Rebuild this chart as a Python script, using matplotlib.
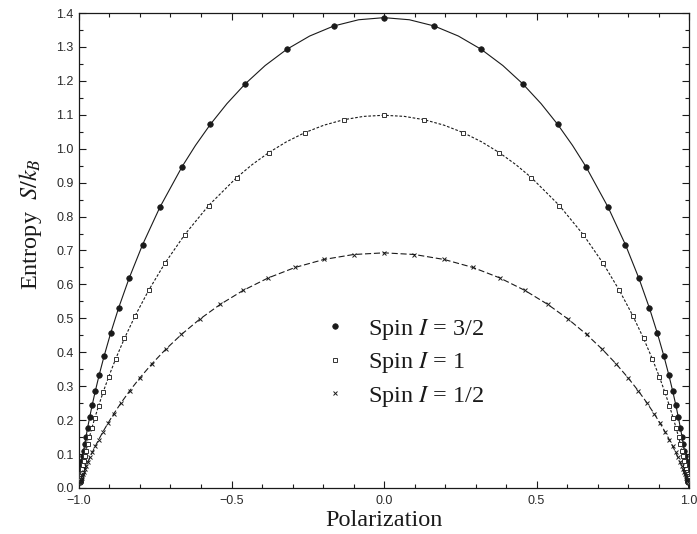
import numpy as np
import matplotlib
matplotlib.use('Agg')
import matplotlib.pyplot as plt
from matplotlib.ticker import MultipleLocator, FuncFormatter

# Polarization / entropy values (right half, P >= 0; the curves are symmetric)
p_half_32 = [0.0, 0.1648, 0.3191, 0.4551, 0.5693, 0.6618, 0.7348, 0.7917, 0.8358, 0.8700,
             0.8965, 0.9173, 0.9337, 0.9466, 0.9569, 0.9651, 0.9717, 0.9770, 0.9813, 0.9847,
             0.9876, 0.9899, 0.9917, 0.9932, 0.9945, 0.9955, 0.9963, 0.9970, 0.9975, 0.9980, 0.9983]
s_half_32 = [1.3863, 1.3617, 1.2927, 1.1911, 1.0718, 0.9475, 0.8275, 0.7169, 0.6180, 0.5310,
             0.4554, 0.3901, 0.3338, 0.2854, 0.2439, 0.2082, 0.1776, 0.1513, 0.1288, 0.1096,
             0.0931, 0.0791, 0.0670, 0.0568, 0.0481, 0.0407, 0.0344, 0.0290, 0.0245, 0.0206, 0.0174]

p_half_1 = [0.0, 0.1325, 0.2598, 0.3777, 0.4833, 0.5752, 0.6533, 0.7184, 0.7719, 0.8156,
            0.8509, 0.8795, 0.9025, 0.9210, 0.9359, 0.9480, 0.9577, 0.9656, 0.9720, 0.9772,
            0.9814, 0.9848, 0.9876, 0.9898, 0.9917, 0.9932, 0.9945, 0.9955, 0.9963, 0.9970, 0.9975]
s_half_1 = [1.0986, 1.0854, 1.0473, 0.9886, 0.9148, 0.8324, 0.7468, 0.6623, 0.5822, 0.5081,
            0.4411, 0.3812, 0.3284, 0.2822, 0.2419, 0.2070, 0.1769, 0.1509, 0.1286, 0.1094,
            0.0930, 0.0790, 0.0670, 0.0568, 0.0481, 0.0407, 0.0344, 0.0290, 0.0245, 0.0206, 0.0174]

p_half_12 = [0.0, 0.0997, 0.1974, 0.2913, 0.3799, 0.4621, 0.5370, 0.6044, 0.6640, 0.7163,
             0.7616, 0.8005, 0.8337, 0.8617, 0.8854, 0.9051, 0.9217, 0.9354, 0.9468, 0.9562,
             0.9640, 0.9705, 0.9757, 0.9801, 0.9837, 0.9866, 0.9890, 0.9910, 0.9926, 0.9940, 0.9951]
s_half_12 = [0.6931, 0.6882, 0.6735, 0.6501, 0.6191, 0.5822, 0.5411, 0.4974, 0.4527, 0.4083,
             0.3653, 0.3245, 0.2865, 0.2514, 0.2195, 0.1909, 0.1653, 0.1426, 0.1227, 0.1053,
             0.0901, 0.0769, 0.0656, 0.0558, 0.0474, 0.0402, 0.0340, 0.0288, 0.0243, 0.0205, 0.0173]

# extra points read along the drawn curves between the widely spaced markers near the top
p_line_32 = [0.0831, 0.2438, 0.3897, 0.5150, 0.6182]
s_line_32 = [1.3801, 1.3321, 1.2451, 1.1328, 1.0096]
p_line_1 = [0.0666, 0.1971, 0.3202, 0.4322]
s_line_1 = [1.0953, 1.0693, 1.0202, 0.9532]
p_line_12 = []
s_line_12 = []

# curve end point (full polarization, zero entropy)
p_end = 1.0
s_end = 0.0

labels = [r'Spin $I$ = 3/2', r'Spin $I$ = 1', r'Spin $I$ = 1/2']
x_ticks = [-1.0, -0.5, 0.0, 0.5, 1.0]


def mirror(p, s):
    p = np.asarray(p, dtype=float)
    s = np.asarray(s, dtype=float)
    return np.concatenate([-p[::-1], p[1:]]), np.concatenate([s[::-1], s[1:]])


def line_data(ph, sh, pe, se):
    p = np.concatenate([ph, pe]).astype(float)
    s = np.concatenate([sh, se]).astype(float)
    o = np.argsort(p)
    p, s = mirror(p[o], s[o])
    return np.concatenate([[-p_end], p, [p_end]]), np.concatenate([[s_end], s, [s_end]])


plt.rcParams['mathtext.fontset'] = 'stix'
plt.rcParams['font.family'] = ['Liberation Sans', 'DejaVu Sans']

fig = plt.figure(figsize=(6.97, 5.34), dpi=100)
ax = fig.add_axes([79 / 697, 1 - 488 / 534, 610 / 697, 475 / 534])

ink = '#1a1a1a'
series = [
    (p_half_32, s_half_32, p_line_32, s_line_32, '-',
     dict(marker='o', markersize=4.0, markerfacecolor=ink, markeredgecolor=ink, markeredgewidth=0.5)),
    (p_half_1, s_half_1, p_line_1, s_line_1, (0, (2.4, 1.6)),
     dict(marker='s', markersize=3.2, markerfacecolor='white', markeredgecolor='#333333', markeredgewidth=0.7)),
    (p_half_12, s_half_12, p_line_12, s_line_12, (0, (5.5, 2.5)),
     dict(marker='x', markersize=3.2, markeredgecolor=ink, markeredgewidth=0.7)),
]

handles = []
for (ph, sh, pe, se, ls, mk), lab in zip(series, labels):
    pl, sl = line_data(ph, sh, pe, se)
    ax.plot(pl, sl, linestyle=ls, color=ink, linewidth=0.8, zorder=2)
    p, s = mirror(ph, sh)
    h, = ax.plot(p, s, linestyle='none', zorder=3, label=lab, **mk)
    handles.append(h)

ax.set_xlim(-1.0, 1.0)
ax.set_ylim(0.0, 1.4)
ax.set_xticks(x_ticks)
ax.xaxis.set_minor_locator(MultipleLocator(0.1))
ax.yaxis.set_major_locator(MultipleLocator(0.1))
ax.yaxis.set_minor_locator(MultipleLocator(0.05))
fmt = FuncFormatter(lambda v, pos: ('%.1f' % v).replace('-', '\u2212'))
ax.xaxis.set_major_formatter(fmt)
ax.yaxis.set_major_formatter(fmt)

ax.tick_params(which='both', direction='in', top=True, right=True, width=0.8, color=ink)
ax.tick_params(which='major', length=5.0)
ax.tick_params(which='minor', length=3.2)
ax.tick_params(axis='both', labelsize=9, labelcolor='#2a2a2a')
ax.tick_params(axis='x', pad=5)
ax.tick_params(axis='y', pad=4)
for sp in ax.spines.values():
    sp.set_linewidth(0.9)
    sp.set_color(ink)

serif = ['Liberation Serif', 'DejaVu Serif']
ax.set_xlabel('Polarization', fontsize=17.5, family=serif, color=ink, labelpad=2)
ax.set_ylabel(r'Entropy  $S/k_B$', fontsize=17.5, family=serif, color=ink)
ax.yaxis.set_label_coords(-0.058, 0.556)

leg = ax.legend(handles=handles, loc='center left', bbox_to_anchor=(0.404, 0.2632),
                frameon=False, borderpad=0, borderaxespad=0, handlelength=0.8,
                handletextpad=0.95, labelspacing=0.35,
                prop={'family': serif, 'size': 17.5})
for t in leg.get_texts():
    t.set_color(ink)

fig.savefig('out.png', dpi=100)
